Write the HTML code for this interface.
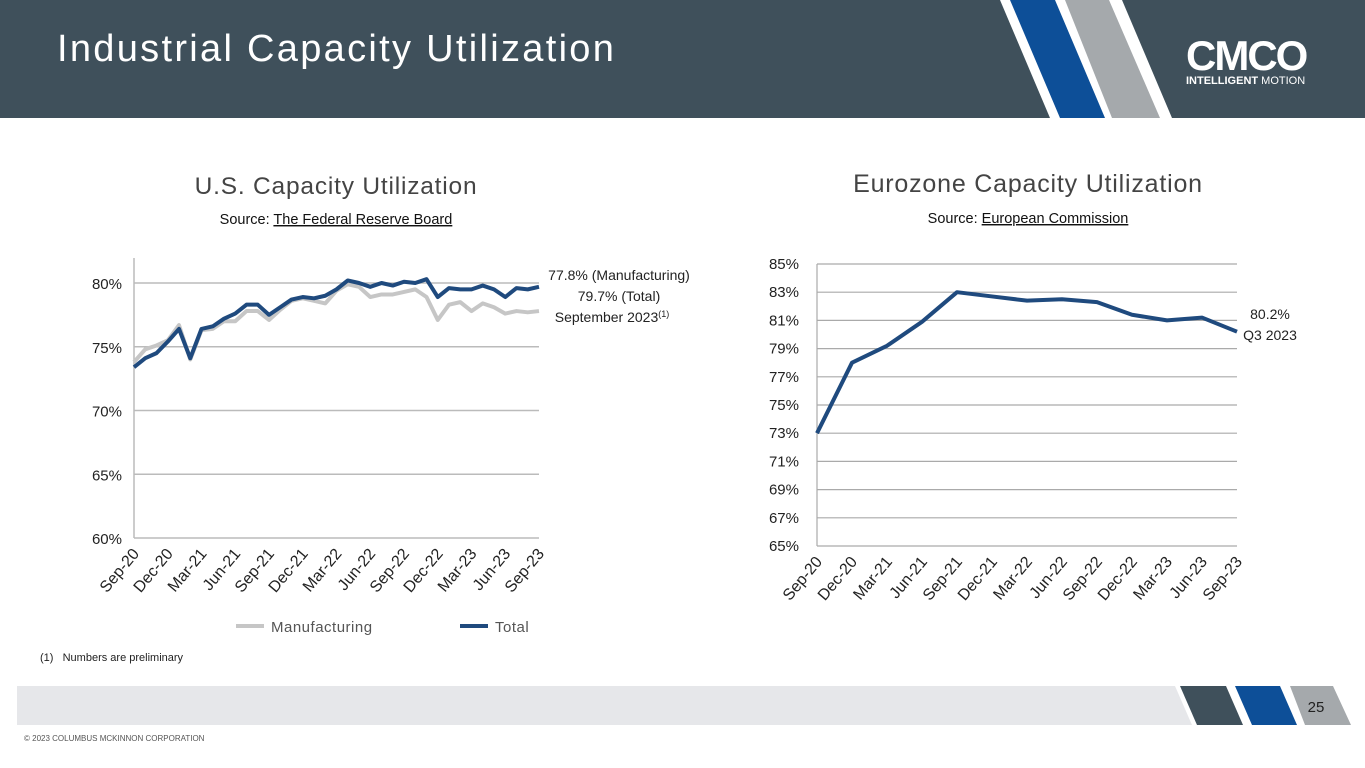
<!DOCTYPE html>
<html><head><meta charset="utf-8"><style>
body{margin:0;width:1365px;height:768px;overflow:hidden;background:#fff;font-family:"Liberation Sans",sans-serif;position:relative}
.abs{position:absolute}
</style></head><body>
<svg class="abs" style="left:0;top:0" width="1365" height="768">
<rect x="0" y="0" width="1365" height="118" fill="#3f505b"/>
<polygon points="1000,0 1122,0 1172,118 1050,118" fill="#fff"/>
<polygon points="1010,0 1055,0 1105,118 1060,118" fill="#0d4f98"/>
<polygon points="1065,0 1109,0 1160,118 1112,118" fill="#a5a9ac"/>
<text x="57" y="61" font-size="38" fill="#fff" letter-spacing="2.3" font-family="Liberation Sans">Industrial Capacity Utilization</text>
<text x="1186" y="70" font-size="42" font-weight="bold" fill="#fff" font-family="Liberation Sans" letter-spacing="-2">CMCO</text>
<text x="1186" y="84" font-size="11" fill="#fff" font-family="Liberation Sans"><tspan font-weight="bold">INTELLIGENT</tspan> MOTION</text>
<polygon points="17,686 1175,686 1192,725 17,725" fill="#e6e7ea"/>
<polygon points="1180,686 1226,686 1243,725 1197,725" fill="#3f505b"/>
<polygon points="1235,686 1280,686 1297,725 1252,725" fill="#0d4f98"/>
<polygon points="1290,686 1333,686 1351,725 1305,725" fill="#a5a9ac"/>
<text x="1316" y="712" font-size="15" fill="#222" text-anchor="middle">25</text>
<text x="24" y="741" font-size="8" fill="#555">© 2023 COLUMBUS MCKINNON CORPORATION</text>
<text x="40" y="661" font-size="11" fill="#222" xml:space="preserve">(1)   Numbers are preliminary</text>
</svg>
<svg id="us" class="abs" style="left:0;top:0" width="720" height="680"></svg>
<svg id="eu" class="abs" style="left:720px;top:0" width="645" height="680"></svg>
<script>
const usCategories=["Sep-20","Dec-20","Mar-21","Jun-21","Sep-21","Dec-21","Mar-22","Jun-22","Sep-22","Dec-22","Mar-23","Jun-23","Sep-23"];
const usTotal=[73.4,74.1,74.5,75.4,76.4,74.1,76.4,76.6,77.2,77.6,78.3,78.3,77.5,78.1,78.7,78.9,78.8,79.0,79.5,80.2,80.0,79.7,80.0,79.8,80.1,80.0,80.3,78.9,79.6,79.5,79.5,79.8,79.5,78.9,79.6,79.5,79.7];
const usManufacturing=[73.8,74.8,75.1,75.5,76.7,74.0,76.3,76.4,77.0,77.0,77.8,77.8,77.1,77.9,78.6,78.8,78.6,78.4,79.4,79.9,79.7,78.9,79.1,79.1,79.3,79.5,78.9,77.1,78.3,78.5,77.8,78.4,78.1,77.6,77.8,77.7,77.8];
const usTicks=[60,65,70,75,80];
const euCategories=["Sep-20","Dec-20","Mar-21","Jun-21","Sep-21","Dec-21","Mar-22","Jun-22","Sep-22","Dec-22","Mar-23","Jun-23","Sep-23"];
const euValues=[73.0,78.0,79.2,80.9,83.0,82.7,82.4,82.5,82.3,81.4,81.0,81.2,80.2];
const euTicks=[65,67,69,71,73,75,77,79,81,83,85];
const NS="http://www.w3.org/2000/svg";
function mk(p,t,a,txt){const e=document.createElementNS(NS,t);for(const k in a)e.setAttribute(k,a[k]);if(txt!=null)e.textContent=txt;p.appendChild(e);return e;}
// US chart
(function(){
const s=document.getElementById('us');
const x0=134,x1=539,yMin=60,yMax=80,yb=538,yt=283;
const y=v=>yb-(v-yMin)/(yMax-yMin)*(yb-yt);
const xm=i=>x0+i*(x1-x0)/(usTotal.length-1);
const xq=i=>x0+i*(x1-x0)/(usCategories.length-1);
let t=mk(s,'text',{x:336,y:194,'font-size':24.5,fill:'#444','text-anchor':'middle','letter-spacing':'0.8'},'U.S. Capacity Utilization');

t=mk(s,'text',{x:336,y:224,'font-size':14.5,fill:'#111','text-anchor':'middle'});

mk(t,'tspan',{},'Source: ');mk(t,'tspan',{'text-decoration':'underline'},'The Federal Reserve Board');
usTicks.forEach(v=>{
 if(v>yMin){const g=mk(s,'line',{x1:x0,x2:x1,y1:y(v),y2:y(v),stroke:'#bbb','stroke-width':1.5});}
 const l=mk(s,'text',{x:122,y:y(v)+6,'font-size':15,fill:'#222','text-anchor':'end'},v+'%');
 
});
let ax=mk(s,'line',{x1:x0,x2:x0,y1:258,y2:yb,stroke:'#bbb','stroke-width':1.5});
ax=mk(s,'line',{x1:x0,x2:x1,y1:yb,y2:yb,stroke:'#bbb','stroke-width':1.5});
usCategories.forEach((c,i)=>{const l=mk(s,'text',{x:xq(i)+6,y:yb+16,'font-size':16,fill:'#222','text-anchor':'end',transform:`rotate(-50 ${xq(i)+6} ${yb+16})`},c);
 });
let p=mk(s,'polyline',{points:usManufacturing.map((v,i)=>xm(i)+','+y(v)).join(' '),fill:'none',stroke:'#c6c6c6','stroke-width':4,'stroke-linejoin':'round'});

p=mk(s,'polyline',{points:usTotal.map((v,i)=>xm(i)+','+y(v)).join(' '),fill:'none',stroke:'#1f4a7e','stroke-width':4,'stroke-linejoin':'round'});

[['77.8% (Manufacturing)',280],['79.7% (Total)',301]].forEach(a=>{const l=mk(s,'text',{x:619,y:a[1],'font-size':14,fill:'#222','text-anchor':'middle'},a[0]);});
t=mk(s,'text',{x:612,y:322,'font-size':14,fill:'#222','text-anchor':'middle'});
mk(t,'tspan',{},'September 2023');mk(t,'tspan',{'font-size':9,dy:-5},'(1)');
let g=mk(s,'line',{x1:236,x2:264,y1:626,y2:626,stroke:'#c6c6c6','stroke-width':4});
t=mk(s,'text',{x:271,y:632,'font-size':15,fill:'#555','letter-spacing':'0.5'},'Manufacturing');
g=mk(s,'line',{x1:460,x2:488,y1:626,y2:626,stroke:'#1f4a7e','stroke-width':4});
t=mk(s,'text',{x:495,y:632,'font-size':15,fill:'#555','letter-spacing':'0.5'},'Total');
})();
// EU chart (offset 720)
(function(){
const s=document.getElementById('eu');
const x0=97,x1=517,yMin=65,yMax=85,yb=546,yt=264;
const y=v=>yb-(v-yMin)/(yMax-yMin)*(yb-yt);
const x=i=>x0+i*(x1-x0)/(euCategories.length-1);
let t=mk(s,'text',{x:308,y:192,'font-size':25,fill:'#444','text-anchor':'middle','letter-spacing':'0.8'},'Eurozone Capacity Utilization');

t=mk(s,'text',{x:308,y:223,'font-size':14.5,fill:'#111','text-anchor':'middle'});

mk(t,'tspan',{},'Source: ');mk(t,'tspan',{'text-decoration':'underline'},'European Commission');
euTicks.forEach(v=>{
 const g=mk(s,'line',{x1:x0,x2:x1,y1:y(v),y2:y(v),stroke:'#aaa','stroke-width':1.2});
 const l=mk(s,'text',{x:79,y:y(v)+5,'font-size':15,fill:'#222','text-anchor':'end'},v+'%');
 
});
let ax=mk(s,'line',{x1:x0,x2:x0,y1:yt,y2:yb,stroke:'#aaa','stroke-width':1.2});
euCategories.forEach((c,i)=>{const l=mk(s,'text',{x:x(i)+6,y:yb+16,'font-size':16,fill:'#222','text-anchor':'end',transform:`rotate(-50 ${x(i)+6} ${yb+16})`},c);
 });
const p=mk(s,'polyline',{points:euValues.map((v,i)=>x(i)+','+y(v)).join(' '),fill:'none',stroke:'#1f4a7e','stroke-width':4,'stroke-linejoin':'round'});

[['80.2%',319],['Q3 2023',340]].forEach(a=>{const l=mk(s,'text',{x:550,y:a[1],'font-size':14,fill:'#222','text-anchor':'middle'},a[0]);});
})();
</script>
</body></html>
